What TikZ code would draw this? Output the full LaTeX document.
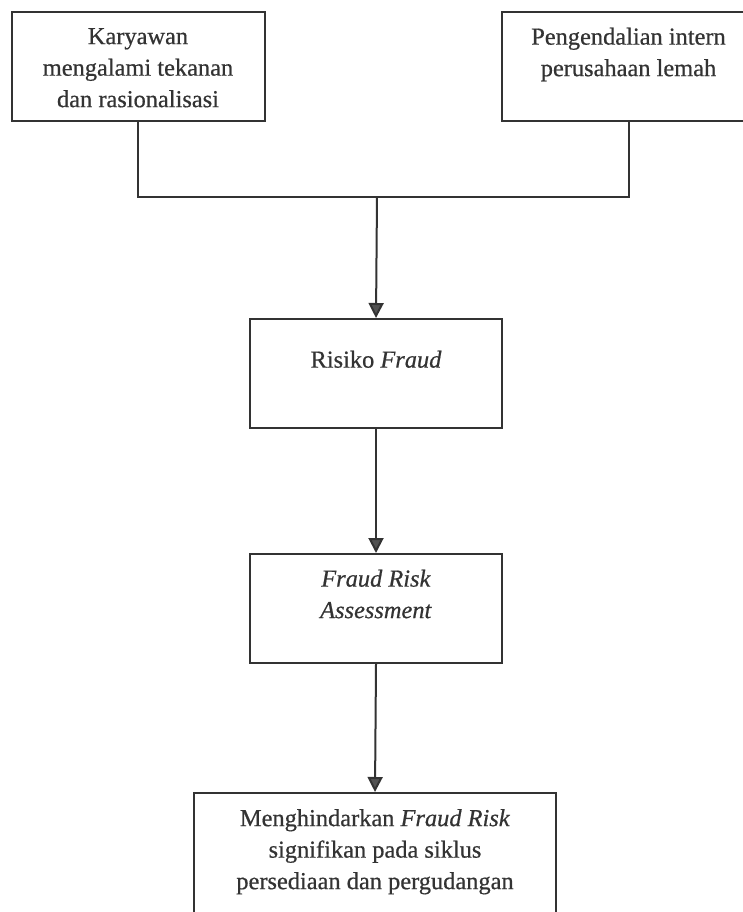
\documentclass[tikz,border=0pt]{standalone}
\usepackage{fontspec}
\setmainfont{Liberation Serif}[FakeBold=0.6]
\usetikzlibrary{arrows.meta}
\definecolor{ink}{HTML}{333333}
\begin{document}
\begin{tikzpicture}[x=1pt,y=-1pt,
  box/.style={draw=ink, line width=2pt, rectangle, inner sep=0pt},
  txt/.style={anchor=north, align=center, inner sep=0pt, text=ink,
    font=\fontsize{24.4}{31.5}\selectfont},
  conn/.style={draw=ink, line width=2pt},
  arr/.style={conn, -{Triangle[length=15pt,width=15pt,fill=ink!85]}}
]
\useasboundingbox (0,0) rectangle (743,912);
% boxes
\node[box, minimum width=253pt, minimum height=109pt] (k) at (138,66.5) {};
\node[box, minimum width=254pt, minimum height=109pt] (p) at (628.5,66.5) {};
\node[box, minimum width=252pt, minimum height=109pt] (r) at (376,373.5) {};
\node[box, minimum width=252pt, minimum height=109pt] (f) at (376,608.5) {};
\node[box, minimum width=362pt, minimum height=140pt] (m) at (375,863) {};
% texts
\node[txt] (kt) at ([yshift=-17pt]k.north) {Karyawan\\mengalami tekanan\\dan rasionalisasi};
\node[txt] (pt) at ([yshift=-16.5pt]p.north) {Pengendalian intern\\perusahaan lemah};
\node[txt] (rt) at ([yshift=-32.5pt]r.north) {Risiko \textit{Fraud}};
\node[txt] (ft) at ([yshift=-16.5pt]f.north) {\textit{Fraud Risk}\\\textit{Assessment}};
\node[txt] (mt) at ([yshift=-17pt]m.north) {Menghindarkan \textit{Fraud Risk}\\signifikan pada siklus\\persediaan dan pergudangan};
% connectors
\coordinate (j) at (377,197);
\draw[conn] (k.south) |- (j) -| (p.south);
\draw[arr] (j) -- (r.north);
\draw[arr] (r.south) -- (f.north);
\draw[arr] (f.south) -- (m.north);
\end{tikzpicture}
\end{document}
